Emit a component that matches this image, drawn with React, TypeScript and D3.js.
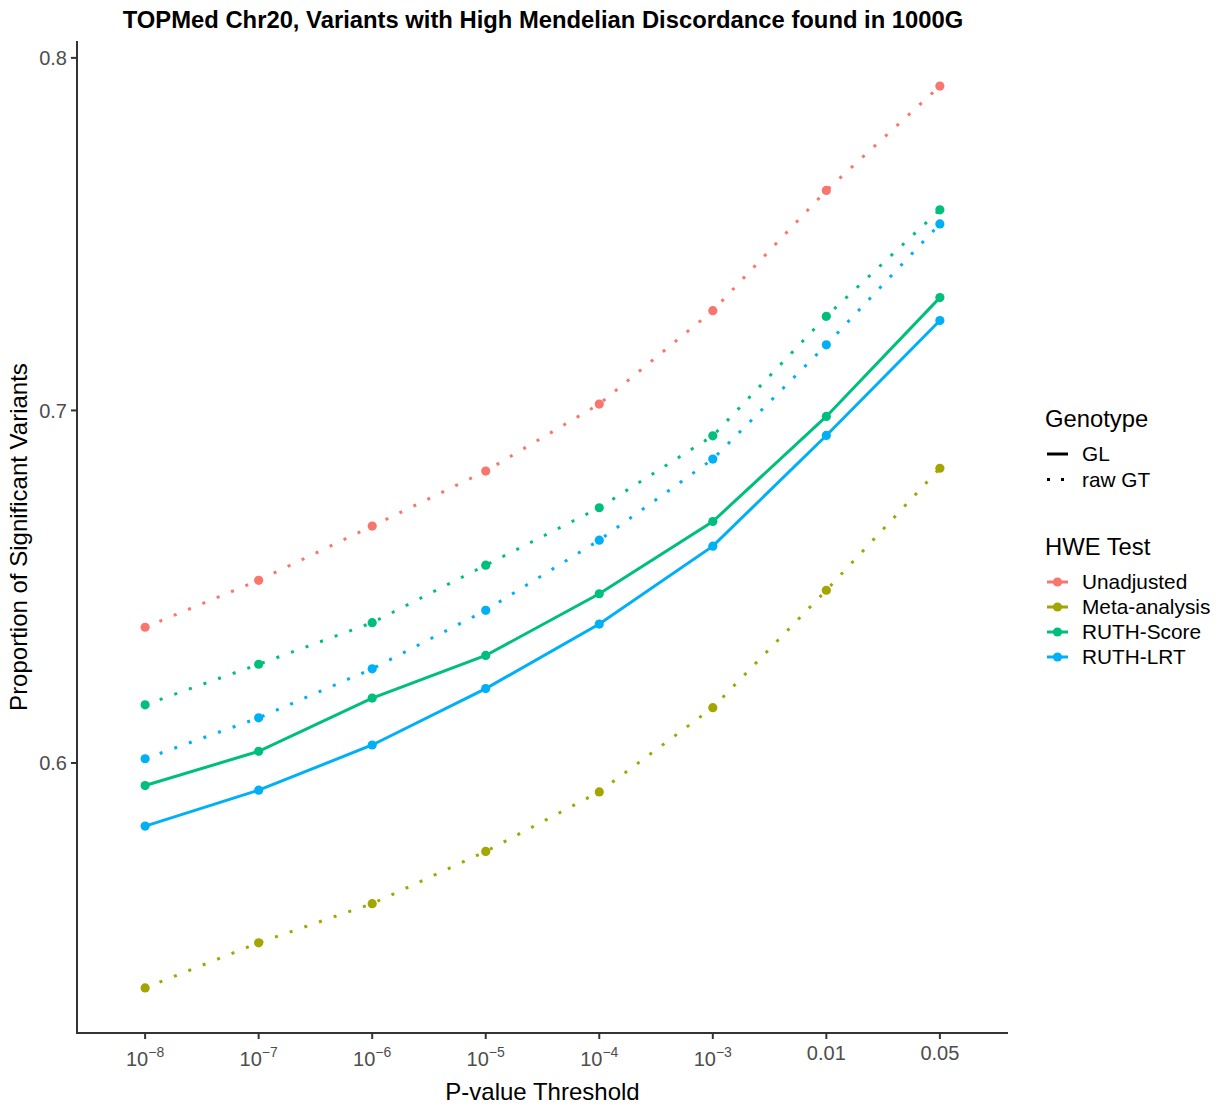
import React from "react";
import * as d3 from "d3";

const thresholds = ["1e-8", "1e-7", "1e-6", "1e-5", "1e-4", "1e-3", "0.01", "0.05"];
const tickBase = ["10", "10", "10", "10", "10", "10", "0.01", "0.05"];
const tickExp = ["−8", "−7", "−6", "−5", "−4", "−3", "", ""];
const yTicks = [0.6, 0.7, 0.8];

const hweTests = ["Unadjusted", "Meta-analysis", "RUTH-Score", "RUTH-LRT"];
const hweColors = ["#F8766D", "#A3A500", "#00BF7D", "#00B0F6"];
const genotypes = ["GL", "raw GT"];

const unadjustedRaw = [0.6385, 0.6518, 0.6672, 0.6828, 0.7018, 0.7283, 0.7624, 0.792];
const metaRaw = [0.5362, 0.549, 0.5601, 0.5749, 0.5918, 0.6157, 0.649, 0.6836];
const scoreRaw = [0.6165, 0.628, 0.6398, 0.6561, 0.6724, 0.6928, 0.7267, 0.7569];
const scoreGL = [0.5936, 0.6033, 0.6184, 0.6305, 0.648, 0.6685, 0.6983, 0.732];
const lrtRaw = [0.6012, 0.6128, 0.6267, 0.6433, 0.6632, 0.6862, 0.7186, 0.7529];
const lrtGL = [0.5821, 0.5923, 0.6051, 0.6211, 0.6394, 0.6615, 0.6929, 0.7255];

const series = [
  { test: "Unadjusted", genotype: "raw GT", values: unadjustedRaw },
  { test: "Meta-analysis", genotype: "raw GT", values: metaRaw },
  { test: "RUTH-Score", genotype: "raw GT", values: scoreRaw },
  { test: "RUTH-LRT", genotype: "raw GT", values: lrtRaw },
  { test: "RUTH-Score", genotype: "GL", values: scoreGL },
  { test: "RUTH-LRT", genotype: "GL", values: lrtGL },
];

const W = 1225;
const H = 1106;
const left = 77;
const right = 1008;
const top = 41;
const bottom = 1033;
const FONT = "'Liberation Sans', Arial, sans-serif";

export default function App() {
  const x = d3.scalePoint<string>().domain(thresholds).range([left, right]).padding(0.6);
  const allVals = series.flatMap((s) => s.values);
  const [mn, mx] = d3.extent(allVals) as [number, number];
  const pad = (mx - mn) * 0.05;
  const y = d3.scaleLinear().domain([mn - pad, mx + pad]).range([bottom, top]);
  const color = d3.scaleOrdinal<string, string>().domain(hweTests).range(hweColors);
  const dash = (g: string) => (g === "GL" ? undefined : "3 12.5");
  const line = d3
    .line<number>()
    .x((_, i) => x(thresholds[i]) as number)
    .y((v) => y(v));

  return (
    <svg width={W} height={H} style={{ position: "absolute", left: 0, top: 0, background: "#fff" }} fontFamily={FONT}>
      <rect width={W} height={H} fill="#fff" />
      <text x={(left + right) / 2 + 0.5} y={28} textAnchor="middle" fontSize={23.8} fontWeight="bold" fill="#000">
        TOPMed Chr20, Variants with High Mendelian Discordance found in 1000G
      </text>

      {/* lines */}
      {series.map((s, i) => (
        <path
          key={"l" + i}
          d={line(s.values) || ""}
          fill="none"
          stroke={color(s.test)}
          strokeWidth={3}
          strokeDasharray={dash(s.genotype)}
          strokeLinecap="butt"
        />
      ))}
      {/* points */}
      {series.map((s, i) =>
        s.values.map((v, j) => (
          <circle key={"p" + i + "-" + j} cx={x(thresholds[j]) as number} cy={y(v)} r={4.6} fill={color(s.test)} />
        ))
      )}

      {/* axes */}
      <line x1={left} x2={left} y1={top} y2={bottom} stroke="#333" strokeWidth={2} />
      <line x1={left - 1} x2={right} y1={bottom} y2={bottom} stroke="#333" strokeWidth={2} />
      {yTicks.map((t) => (
        <g key={"yt" + t}>
          <line x1={left - 6} x2={left} y1={y(t)} y2={y(t)} stroke="#333" strokeWidth={2} />
          <text x={left - 10} y={y(t)} dy="0.36em" textAnchor="end" fontSize={20} fill="#4D4D4D">
            {t.toFixed(1)}
          </text>
        </g>
      ))}
      {thresholds.map((t, i) => {
        const cx = x(t) as number;
        return (
          <g key={"xt" + t}>
            <line x1={cx} x2={cx} y1={bottom} y2={bottom + 6} stroke="#333" strokeWidth={2} />
            {tickExp[i] ? (
              <text x={cx} y={1066} textAnchor="middle" fontSize={20} fill="#4D4D4D">
                {tickBase[i]}
                <tspan fontSize={14} dy={-9}>
                  {tickExp[i]}
                </tspan>
              </text>
            ) : (
              <text x={cx} y={1060} textAnchor="middle" fontSize={20} fill="#4D4D4D">
                {tickBase[i]}
              </text>
            )}
          </g>
        );
      })}

      <text x={(left + right) / 2} y={1100} textAnchor="middle" fontSize={24} fill="#000">
        P-value Threshold
      </text>
      <text
        transform={`translate(19,${(top + bottom) / 2}) rotate(-90)`}
        textAnchor="middle"
        dy="0.35em"
        fontSize={24}
        fill="#000"
      >
        Proportion of Significant Variants
      </text>

      {/* legend: Genotype */}
      <text x={1045} y={427} fontSize={23.8} fill="#000">
        Genotype
      </text>
      {genotypes.map((g, i) => {
        const cy = 454 + i * 25.5;
        return (
          <g key={"g" + g}>
            <line x1={1047} x2={1068} y1={cy} y2={cy} stroke="#000" strokeWidth={3} strokeDasharray={g === "GL" ? undefined : "3 11"} />
            <text x={1082} y={cy} dy="0.36em" fontSize={20.8} fill="#000">
              {g}
            </text>
          </g>
        );
      })}

      {/* legend: HWE Test */}
      <text x={1045} y={555} fontSize={23.8} fill="#000">
        HWE Test
      </text>
      {hweTests.map((t, i) => {
        const cy = 582 + i * 25;
        return (
          <g key={"h" + t}>
            <line x1={1047} x2={1068} y1={cy} y2={cy} stroke={color(t)} strokeWidth={3} />
            <circle cx={1057.5} cy={cy} r={4.6} fill={color(t)} />
            <text x={1082} y={cy} dy="0.36em" fontSize={20.8} fill="#000">
              {t}
            </text>
          </g>
        );
      })}
    </svg>
  );
}
